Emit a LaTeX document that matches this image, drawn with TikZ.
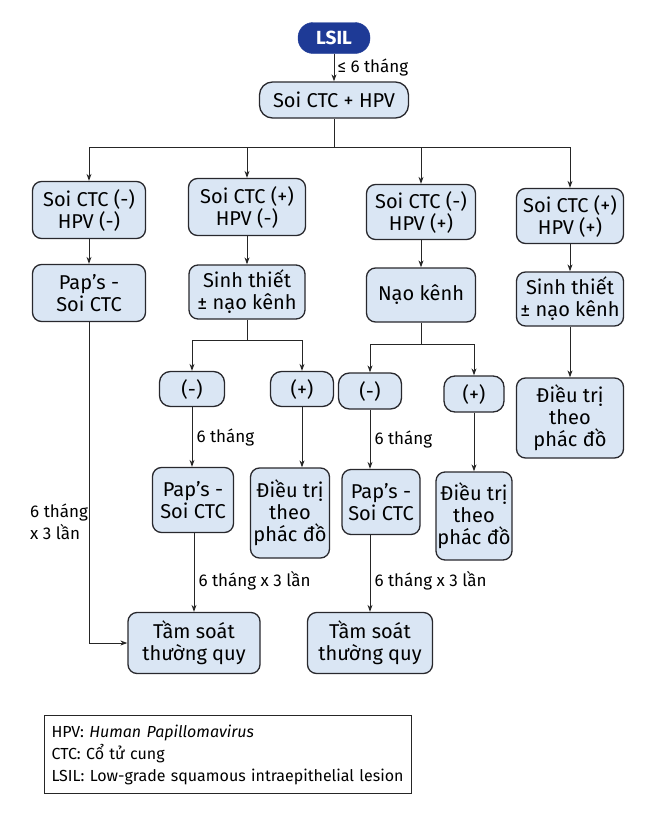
\documentclass[tikz,border=0pt]{standalone}
\usepackage{fontspec}
\setmainfont{Fira Sans}
\usetikzlibrary{arrows.meta}
\definecolor{boxfill}{RGB}{218,230,244}
\definecolor{boxline}{RGB}{40,40,45}
\definecolor{lsilblue}{RGB}{30,58,150}
\tikzset{
  box/.style={draw=boxline, line width=1.3pt, fill=boxfill, rounded corners=9pt,
    align=center, inner sep=1pt, font=\fontsize{20}{22}\selectfont},
  lbl/.style={font=\fontsize{17}{22}\selectfont, inner sep=0pt, align=left},
  conn/.style={line width=1pt, draw=black!85},
  arr/.style={conn, -{Stealth[length=7pt,width=5pt]}},
}
\begin{document}
\begin{tikzpicture}[x=1pt,y=-1pt]
\useasboundingbox (0,0) rectangle (646,827);
% top
\node[draw=lsilblue, fill=lsilblue, rounded corners=15pt, minimum width=72pt, minimum height=31pt,
  inner sep=1pt, text=white, font=\fontsize{19}{20}\selectfont\bfseries] (L) at (334,38) {LSIL};
\node[box, rounded corners=13pt, minimum width=149pt, minimum height=36pt] (S) at (334,100) {Soi CTC + HPV};
% row 2
\node[box, minimum width=113pt, minimum height=57pt] (A1) at (89,210) {Soi CTC (-)\\HPV (-)};
\node[box, minimum width=117pt, minimum height=57pt] (B1) at (247,207) {Soi CTC (+)\\HPV (-)};
\node[box, minimum width=109pt, minimum height=55pt] (C1) at (421,212) {Soi CTC (-)\\HPV (+)};
\node[box, minimum width=107pt, minimum height=55pt] (D1) at (570,216) {Soi CTC (+)\\HPV (+)};
% row 3
\node[box, minimum width=113pt, minimum height=57pt] (A2) at (89,293) {Pap’s -\\Soi CTC};
\node[box, minimum width=116pt, minimum height=54pt] (B2) at (247,292) {Sinh thiết\\± nạo kênh};
\node[box, minimum width=109pt, minimum height=54pt] (C2) at (421,295) {Nạo kênh};
\node[box, minimum width=107pt, minimum height=54pt] (D2) at (570,299) {Sinh thiết\\± nạo kênh};
% row 4
\node[box, rounded corners=11pt, minimum width=65pt, minimum height=35pt] (Bm) at (192,389) {(-)};
\node[box, rounded corners=11pt, minimum width=63pt, minimum height=35pt] (Bp) at (302,389) {(+)};
\node[box, rounded corners=11pt, minimum width=63pt, minimum height=36pt] (Cm) at (370,391) {(-)};
\node[box, rounded corners=11pt, minimum width=60pt, minimum height=36pt] (Cp) at (474,394) {(+)};
\node[box, minimum width=107pt, minimum height=80pt] (D3) at (570,418) {Điều trị\\theo\\phác đồ};
% row 5
\node[box, minimum width=81pt, minimum height=65pt] (Bm2) at (193,500) {Pap’s -\\Soi CTC};
\node[box, minimum width=79pt, minimum height=90pt] (Bp2) at (290,513) {Điều trị\\theo\\phác đồ};
\node[box, minimum width=78pt, minimum height=65pt] (Cm2) at (381,502) {Pap’s -\\Soi CTC};
\node[box, minimum width=76pt, minimum height=88pt] (Cp2) at (474,516) {Điều trị\\theo\\phác đồ};
% row 6
\node[box, minimum width=132pt, minimum height=61pt] (T1) at (194,643) {Tầm soát\\thường quy};
\node[box, minimum width=125pt, minimum height=61pt] (T2) at (370,643) {Tầm soát\\thường quy};
% legend
\node[draw=black!85, line width=1pt, anchor=north west, minimum width=367pt, minimum height=78pt,
  text width=353pt, inner xsep=7pt, inner ysep=0pt, align=left, font=\fontsize{16}{22}\selectfont] (Lg) at (44,715)
  {HPV: \textit{Human Papillomavirus}\\CTC: Cổ tử cung\\LSIL: Low-grade squamous intraepithelial lesion};
% connectors
\coordinate (bus) at (0,147);
\coordinate (bb) at (0,340);
\coordinate (cb) at (0,344);
\draw[arr] (L.south) -- node[lbl, anchor=west, xshift=3pt] {≤ 6 tháng} (S.north);
\draw[conn] (S.south) -- (S.south |- bus);
\draw[conn] (A1.north |- bus) -- (D1.north |- bus);
\foreach \n in {A1,B1,C1,D1} \draw[arr] (\n.north |- bus) -- (\n.north);
\draw[arr] (A1.south) -- (A2.north);
\draw[arr] (B1.south) -- (B2.north);
\draw[arr] (C1.south) -- (C2.north);
\draw[arr] (D1.south) -- (D2.north);
% B branch
\draw[conn] (B2.south) -- (B2.south |- bb);
\draw[conn] (Bm.north |- bb) -- (Bp.north |- bb);
\draw[arr] (Bm.north |- bb) -- (Bm.north);
\draw[arr] (Bp.north |- bb) -- (Bp.north);
% C branch
\draw[conn] (C2.south) -- (C2.south |- cb);
\draw[conn] (Cm.north |- cb) -- (Cp.north |- cb);
\draw[arr] (Cm.north |- cb) -- (Cm.north);
\draw[arr] (Cp.north |- cb) -- (Cp.north);
% D
\draw[arr] (D2.south) -- (D3.north);
% row 4 to 5
\draw[arr] (Bm.south) -- node[lbl, pos=0.5, anchor=west, xshift=4pt] {6 tháng} (Bm.south |- Bm2.north);
\draw[arr] (Bp.south) -- (Bp.south |- Bp2.north);
\draw[arr] (Cm.south) -- node[lbl, pos=0.5, anchor=west, xshift=4pt] {6 tháng} (Cm.south |- Cm2.north);
\draw[arr] (Cp.south) -- (Cp.south |- Cp2.north);
% row 5 to 6
\draw[arr] (T1.north |- Bm2.south) -- node[lbl, pos=0.6, anchor=west, xshift=4pt] {6 tháng x 3 lần} (T1.north);
\draw[arr] (T2.north |- Cm2.south) -- node[lbl, pos=0.6, anchor=west, xshift=4pt] {6 tháng x 3 lần} (T2.north);
\draw[arr] (A2.south) |- (T1.west);
\coordinate (lab) at (30,522);
\node[lbl, anchor=west] (lft) at (lab) {6 tháng\\x 3 lần};
\end{tikzpicture}
\end{document}
